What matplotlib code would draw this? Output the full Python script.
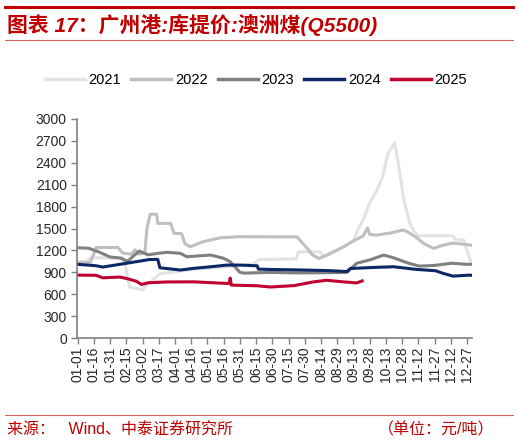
import matplotlib
matplotlib.use("Agg")
import matplotlib.pyplot as plt
from matplotlib.lines import Line2D

plt.rcParams['font.family'] = ['Liberation Sans', 'Noto Sans CJK SC', 'DejaVu Sans']

# x = day of year (0 = 01-01) (元/吨)
d2021 = [0, 8, 12, 40, 44, 48, 60, 63, 68, 76, 90, 107, 125, 150, 163, 168, 202, 204, 224, 228,
         246, 255, 259, 264, 270, 276, 282, 287, 291, 293, 296, 299, 301, 304, 307, 311, 315,
         347, 349, 357, 360, 364]
v2021 = [1040, 1050, 1100, 1095, 1000, 700, 660, 720, 780, 880, 910, 940, 960, 990, 1020, 1076,
         1085, 1180, 1180, 1110, 1250, 1330, 1480, 1620, 1850, 2000, 2210, 2530, 2620, 2670, 2440,
         2150, 1935, 1750, 1575, 1460, 1400, 1400, 1350, 1340, 1200, 1020]

d2022 = [0, 12, 17, 37, 42, 50, 53, 56, 62, 64, 67, 73, 74, 86, 89, 96, 99, 104, 116, 132, 150,
         203, 206, 211, 217, 223, 230, 246, 255, 264, 268, 270, 276, 289, 301, 305, 313, 320, 326,
         329, 338, 347, 360, 364]
v2022 = [1030, 1040, 1240, 1240, 1160, 1150, 1210, 1150, 1160, 1500, 1695, 1695, 1570, 1570,
         1434, 1430, 1296, 1250, 1320, 1374, 1388, 1385, 1330, 1250, 1140, 1090, 1135, 1250, 1330,
         1400, 1507, 1420, 1410, 1438, 1480, 1455, 1380, 1296, 1250, 1228, 1273, 1300, 1280, 1270]

d2023 = [0, 10, 19, 30, 40, 46, 52, 57, 65, 74, 83, 95, 101, 123, 135, 141, 150, 154, 166, 178,
         200, 230, 249, 258, 270, 283, 292, 306, 316, 330, 346, 360, 364]
v2023 = [1237, 1230, 1183, 1110, 1095, 1050, 1130, 1192, 1140, 1160, 1175, 1160, 1114, 1137,
         1092, 1046, 900, 890, 895, 900, 893, 895, 900, 1025, 1070, 1137, 1100, 1025, 986, 995,
         1025, 1010, 1010]

d2024 = [0, 17, 23, 39, 54, 66, 73, 74, 76, 95, 107, 123, 138, 150, 166, 167, 178, 200, 230, 249,
         252, 274, 292, 313, 331, 338, 347, 363, 364]
v2024 = [1010, 991, 973, 1010, 1046, 1075, 1078, 1078, 963, 932, 955, 977, 1000, 1000, 990, 945,
         940, 935, 925, 912, 953, 968, 977, 941, 922, 886, 849, 863, 860]

d2025 = [0, 17, 23, 39, 45, 54, 59, 65, 82, 107, 138, 140, 141, 142, 166, 178, 200, 218, 230,
         246, 258, 263]
v2025 = [863, 860, 826, 836, 817, 780, 735, 758, 769, 771, 749, 749, 822, 726, 717, 700, 719,
         770, 792, 770, 756, 783]

tick_days = list(range(0, 361, 15))
tick_labels = ['01-01', '01-16', '01-31', '02-15', '03-02', '03-17', '04-01', '04-16', '05-01',
               '05-16', '05-31', '06-15', '06-30', '07-15', '07-30', '08-14', '08-29', '09-13',
               '09-28', '10-13', '10-28', '11-12', '11-27', '12-12', '12-27']

red = '#c00000'
series = [('2021', d2021, v2021, '#e3e3e3'),
          ('2022', d2022, v2022, '#bfbfbf'),
          ('2023', d2023, v2023, '#808080'),
          ('2024', d2024, v2024, '#0c2866'),
          ('2025', d2025, v2025, '#c0002f')]

fig = plt.figure(figsize=(5.18, 4.45), dpi=100)
ax = fig.add_axes([0.149, 0.240, 0.763, 0.493])

for name, d, v, c in series:
    ax.plot(d, v, color=c, lw=2.2, label=name)

ax.set_xlim(-0.5, 365)
ax.set_ylim(0, 3000)
ax.set_yticks(range(0, 3001, 300))
ax.set_xticks(tick_days)
ax.set_xticklabels(tick_labels, rotation=90)
for s in ['top', 'right']:
    ax.spines[s].set_visible(False)
for s in ['left', 'bottom']:
    ax.spines[s].set_color('#808080')
    ax.spines[s].set_linewidth(1.2)
ax.tick_params(axis='both', colors='#808080', length=4, width=1.0, labelsize=10,
               labelcolor='#262626')
ax.tick_params(axis='x', pad=2)

handles = [Line2D([0], [0], color=c, lw=2.5) for _, _, _, c in series]
fig.legend(handles, [s[0] for s in series], loc='center', bbox_to_anchor=(0.494, 0.82),
           ncol=5, frameon=False, fontsize=10.5, handlelength=2.75, handletextpad=0.25,
           columnspacing=0.7)

# header / footer decoration
fig.add_artist(Line2D([0.01, 0.99], [0.984, 0.984], color=red, lw=2.2))
fig.text(0.014, 0.944, '图表 17：广州港:库提价:澳洲煤(Q5500)', color=red, fontsize=15,
         fontweight='bold', style='italic', va='center', ha='left')
fig.add_artist(Line2D([0.01, 0.99], [0.909, 0.909], color='#e06060', lw=0.8))
fig.add_artist(Line2D([0.01, 0.99], [0.067, 0.067], color='#e06060', lw=0.8))
fig.text(0.014, 0.033, '来源：   Wind、中泰证券研究所', color=red, fontsize=11.5,
         va='center', ha='left')
fig.text(0.955, 0.033, '（单位：元/吨）', color=red, fontsize=11.5, va='center', ha='right')

fig.savefig('out.png', dpi=100)
